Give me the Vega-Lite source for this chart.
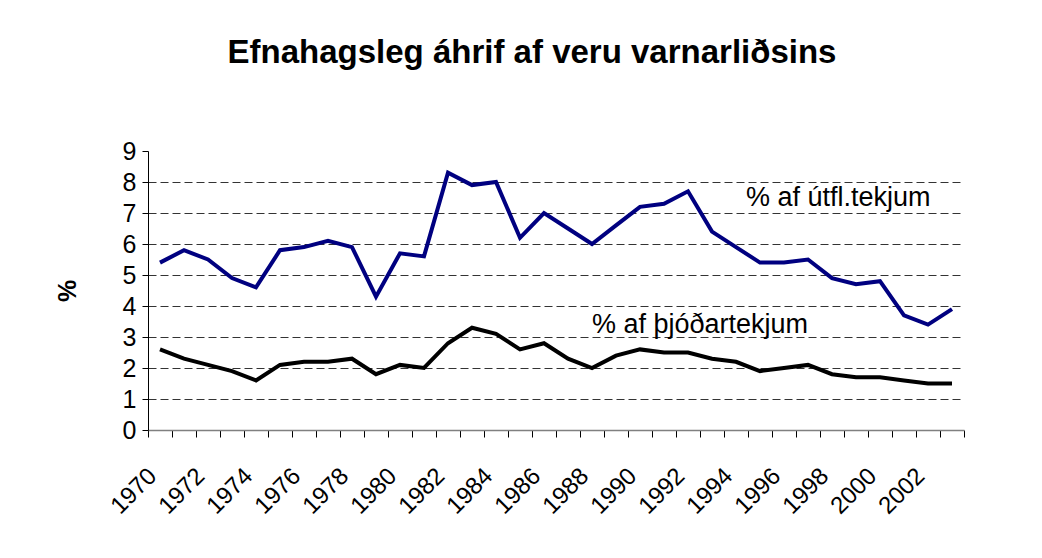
{
  "$schema": "https://vega.github.io/schema/vega-lite/v6.json",
  "autosize": "none",
  "width": 816,
  "height": 279,
  "padding": {"left": 148, "top": 151, "right": 78, "bottom": 128},
  "background": "white",
  "config": {"view": {"stroke": null}, "font": "Liberation Sans"},
  "title": {
    "text": "Efnahagsleg áhrif af veru varnarliðsins",
    "font": "Liberation Sans",
    "fontSize": 33,
    "fontWeight": "bold",
    "color": "#000000",
    "anchor": "middle",
    "offset": 69,
    "dx": -24
  },
  "datasets": {
    "series": [
      {"year": 1970, "series": "utfl", "value": 5.4},
      {"year": 1971, "series": "utfl", "value": 5.8},
      {"year": 1972, "series": "utfl", "value": 5.5},
      {"year": 1973, "series": "utfl", "value": 4.9},
      {"year": 1974, "series": "utfl", "value": 4.6},
      {"year": 1975, "series": "utfl", "value": 5.8},
      {"year": 1976, "series": "utfl", "value": 5.9},
      {"year": 1977, "series": "utfl", "value": 6.1},
      {"year": 1978, "series": "utfl", "value": 5.9},
      {"year": 1979, "series": "utfl", "value": 4.3},
      {"year": 1980, "series": "utfl", "value": 5.7},
      {"year": 1981, "series": "utfl", "value": 5.6},
      {"year": 1982, "series": "utfl", "value": 8.3},
      {"year": 1983, "series": "utfl", "value": 7.9},
      {"year": 1984, "series": "utfl", "value": 8.0},
      {"year": 1985, "series": "utfl", "value": 6.2},
      {"year": 1986, "series": "utfl", "value": 7.0},
      {"year": 1987, "series": "utfl", "value": 6.5},
      {"year": 1988, "series": "utfl", "value": 6.0},
      {"year": 1989, "series": "utfl", "value": 6.6},
      {"year": 1990, "series": "utfl", "value": 7.2},
      {"year": 1991, "series": "utfl", "value": 7.3},
      {"year": 1992, "series": "utfl", "value": 7.7},
      {"year": 1993, "series": "utfl", "value": 6.4},
      {"year": 1994, "series": "utfl", "value": 5.9},
      {"year": 1995, "series": "utfl", "value": 5.4},
      {"year": 1996, "series": "utfl", "value": 5.4},
      {"year": 1997, "series": "utfl", "value": 5.5},
      {"year": 1998, "series": "utfl", "value": 4.9},
      {"year": 1999, "series": "utfl", "value": 4.7},
      {"year": 2000, "series": "utfl", "value": 4.8},
      {"year": 2001, "series": "utfl", "value": 3.7},
      {"year": 2002, "series": "utfl", "value": 3.4},
      {"year": 2003, "series": "utfl", "value": 3.9},
      {"year": 1970, "series": "thjod", "value": 2.6},
      {"year": 1971, "series": "thjod", "value": 2.3},
      {"year": 1972, "series": "thjod", "value": 2.1},
      {"year": 1973, "series": "thjod", "value": 1.9},
      {"year": 1974, "series": "thjod", "value": 1.6},
      {"year": 1975, "series": "thjod", "value": 2.1},
      {"year": 1976, "series": "thjod", "value": 2.2},
      {"year": 1977, "series": "thjod", "value": 2.2},
      {"year": 1978, "series": "thjod", "value": 2.3},
      {"year": 1979, "series": "thjod", "value": 1.8},
      {"year": 1980, "series": "thjod", "value": 2.1},
      {"year": 1981, "series": "thjod", "value": 2.0},
      {"year": 1982, "series": "thjod", "value": 2.8},
      {"year": 1983, "series": "thjod", "value": 3.3},
      {"year": 1984, "series": "thjod", "value": 3.1},
      {"year": 1985, "series": "thjod", "value": 2.6},
      {"year": 1986, "series": "thjod", "value": 2.8},
      {"year": 1987, "series": "thjod", "value": 2.3},
      {"year": 1988, "series": "thjod", "value": 2.0},
      {"year": 1989, "series": "thjod", "value": 2.4},
      {"year": 1990, "series": "thjod", "value": 2.6},
      {"year": 1991, "series": "thjod", "value": 2.5},
      {"year": 1992, "series": "thjod", "value": 2.5},
      {"year": 1993, "series": "thjod", "value": 2.3},
      {"year": 1994, "series": "thjod", "value": 2.2},
      {"year": 1995, "series": "thjod", "value": 1.9},
      {"year": 1996, "series": "thjod", "value": 2.0},
      {"year": 1997, "series": "thjod", "value": 2.1},
      {"year": 1998, "series": "thjod", "value": 1.8},
      {"year": 1999, "series": "thjod", "value": 1.7},
      {"year": 2000, "series": "thjod", "value": 1.7},
      {"year": 2001, "series": "thjod", "value": 1.6},
      {"year": 2002, "series": "thjod", "value": 1.5},
      {"year": 2003, "series": "thjod", "value": 1.5}
    ]
  },
  "encoding": {
    "x": {
      "field": "year",
      "type": "ordinal",
      "scale": {"type": "band", "paddingInner": 0, "paddingOuter": 0},
      "axis": {
        "title": null,
        "bandPosition": 1,
        "tickExtra": true,
        "labelOffset": -7,
        "labelExpr": "datum.value % 2 == 0 ? datum.label : ''",
        "labelAngle": -45,
        "labelAlign": "right",
        "labelBaseline": "middle",
        "labelFontSize": 24,
        "labelColor": "#000000",
        "labelPadding": 35,
        "labelOverlap": false,
        "labelFont": "Liberation Sans",
        "tickSize": 7,
        "tickColor": "#000000",
        "domainColor": "#808080",
        "domainWidth": 1.5,
        "grid": false
      }
    },
    "y": {
      "field": "value",
      "type": "quantitative",
      "scale": {"domain": [0, 9], "nice": false, "zero": true},
      "axis": {
        "title": "%",
        "titleFontSize": 25,
        "titleFontWeight": "bold",
        "titleColor": "#000000",
        "titleFont": "Liberation Sans",
        "titlePadding": 42,
        "values": [0, 1, 2, 3, 4, 5, 6, 7, 8, 9],
        "tickCount": 10,
        "labelOverlap": false,
        "labelFlush": false,
        "labelFontSize": 25,
        "labelColor": "#000000",
        "labelFont": "Liberation Sans",
        "labelPadding": 6,
        "tickSize": 6,
        "tickColor": "#000000",
        "domainColor": "#000000",
        "grid": true,
        "gridDash": [8, 4],
        "gridColor": "#333333",
        "gridWidth": 1,
        "gridOpacity": {"condition": {"test": "datum.value == 0 || datum.value == 9", "value": 0}, "value": 1}
      }
    }
  },
  "layer": [
    {
      "data": {"name": "series"},
      "mark": {"type": "line", "strokeWidth": 4, "strokeJoin": "miter"},
      "encoding": {
        "color": {
          "field": "series",
          "type": "nominal",
          "scale": {"domain": ["utfl", "thjod"], "range": ["#000080", "#000000"]},
          "legend": null
        }
      }
    },
    {
      "data": {"values": [{"year": 1994, "value": 7.5, "label": "% af útfl.tekjum"}]},
      "mark": {"type": "text", "align": "left", "baseline": "middle", "fontSize": 27, "font": "Liberation Sans", "color": "#000000", "dx": 10},
      "encoding": {
        "text": {"field": "label"}
      }
    },
    {
      "data": {"values": [{"year": 1988, "value": 3.4, "label": "% af þjóðartekjum"}]},
      "mark": {"type": "text", "align": "left", "baseline": "middle", "fontSize": 27, "font": "Liberation Sans", "color": "#000000", "dx": 0},
      "encoding": {
        "text": {"field": "label"}
      }
    }
  ]
}
